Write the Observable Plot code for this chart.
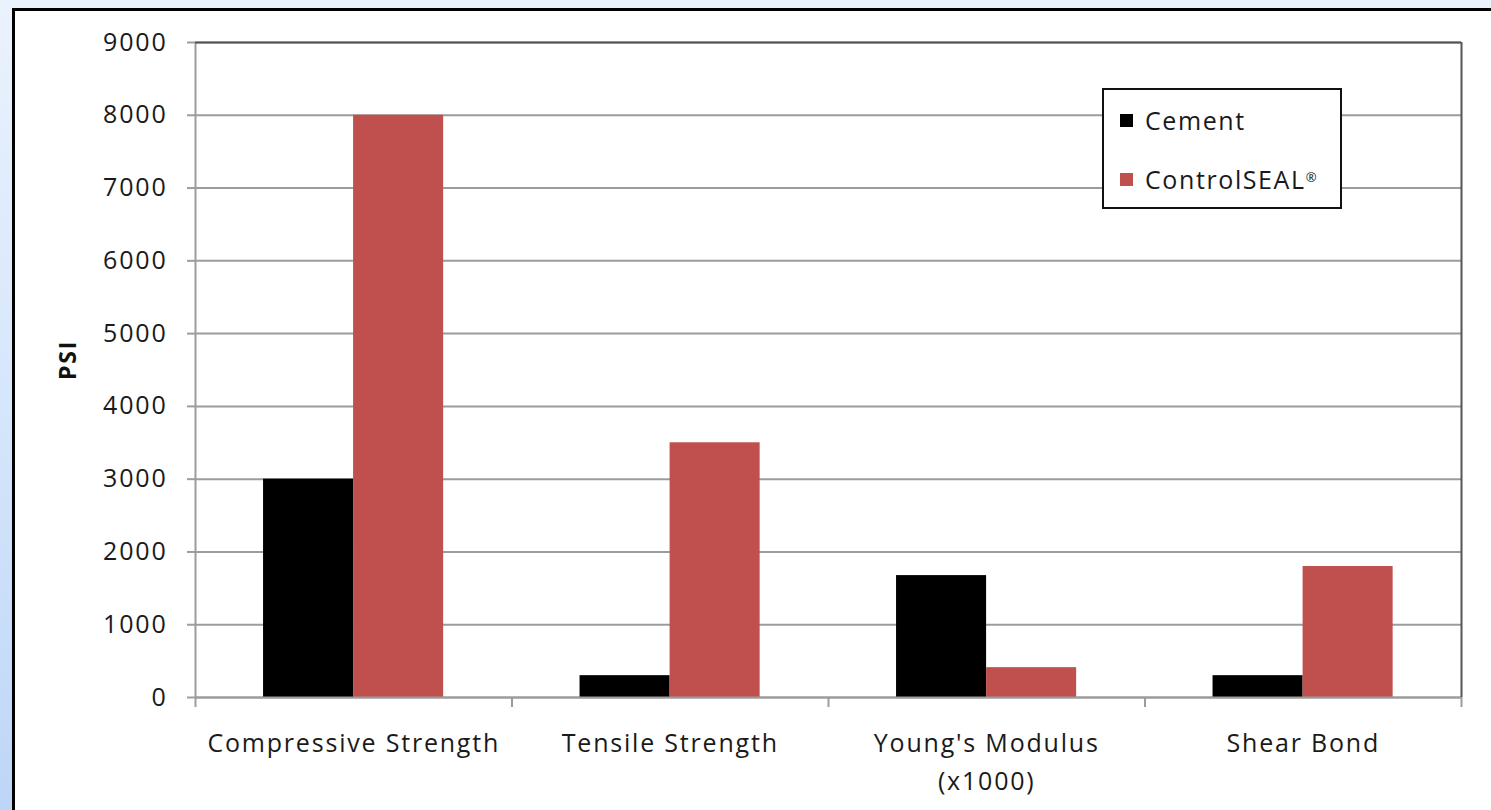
<!DOCTYPE html>
<html>
<head>
<meta charset="utf-8">
<script src="https://cdn.jsdelivr.net/npm/d3@7"></script>
<script src="https://cdn.jsdelivr.net/npm/@observablehq/plot@0.6"></script>
<style>
  html, body { margin: 0; padding: 0; }
  body {
    width: 1491px; height: 810px; overflow: hidden; position: relative;
    background: linear-gradient(to bottom, #eaf2fd 0%, #d6e6fb 50%, #bdd6f7 100%);
    font-family: "Open Sans", sans-serif;
  }
  #panel {
    position: absolute; left: 12px; top: 8px; right: 0; bottom: 0;
    background: #fff; border-left: 3px solid #000; border-top: 3px solid #000;
  }
  #chart { position: absolute; left: 0; top: 0; }
  #legend {
    position: absolute; left: 1102px; top: 88px; width: 236px; height: 117px;
    border: 2px solid #111; background: #fff; box-sizing: content-box;
  }
  .item { position: absolute; left: 16px; display: flex; align-items: center;
    font-size: 25px; color: #1a1a1a; letter-spacing: 1.6px; }
  .sw { width: 13px; height: 13px; margin-right: 12px; }
</style>
</head>
<body>
<div id="panel"></div>
<div id="chart"></div>
<div id="legend"></div>
<script>
const categories = ["Compressive Strength", "Tensile Strength", "Young's Modulus\n(x1000)", "Shear Bond"];
const cementValues = [3000, 300, 1675, 300];
const controlSealValues = [8000, 3500, 410, 1800];
const seriesNames = ["Cement", "ControlSEAL®"];
const seriesColors = ["#000000", "#c0504d"];
const yTicks = [0, 1000, 2000, 3000, 4000, 5000, 6000, 7000, 8000, 9000];

const rows = [];
categories.forEach((c, i) => {
  rows.push({category: c, index: i, series: 0, value: cementValues[i]});
  rows.push({category: c, index: i, series: 1, value: controlSealValues[i]});
});

const gap = 0.215, barW = 0.2845;
const grid = "#9c9c9c";
const font = "Open Sans, sans-serif";

const chart = Plot.plot({
  width: 1491,
  height: 810,
  marginLeft: 195,
  marginRight: 30,
  marginTop: 42,
  marginBottom: 113,
  style: {background: "transparent", fontFamily: font, color: "#1a1a1a"},
  x: {type: "linear", domain: [0, categories.length], axis: null},
  y: {domain: [0, 9000], axis: null},
  marks: [
    Plot.gridY(yTicks, {stroke: grid, strokeOpacity: 1, strokeWidth: 2}),
    Plot.rectY(rows, {
      x1: d => d.index + gap + d.series * barW,
      x2: d => d.index + gap + (d.series + 1) * barW,
      y: "value",
      fill: d => seriesColors[d.series]
    }),
    Plot.ruleX([0], {stroke: grid, strokeWidth: 2}),
    Plot.ruleY([0], {stroke: grid, strokeWidth: 2}),
    Plot.ruleY([9000], {stroke: "#555", strokeWidth: 2}),
    Plot.ruleX([categories.length], {stroke: "#555", strokeWidth: 2}),
    Plot.axisY({ticks: yTicks, tickSize: 8, tickPadding: 20, stroke: grid, strokeWidth: 2,
      fontSize: 25, fill: "#1a1a1a", tickFormat: d => String(d), label: null}),
    Plot.axisX({ticks: d3.range(categories.length + 1), tickSize: 10, tickFormat: () => "",
      stroke: grid, strokeWidth: 2, label: null}),
    Plot.axisX({ticks: categories.map((c, i) => i + 0.5), tickSize: 0, tickPadding: 28,
      tickFormat: v => categories[Math.floor(v)], fontSize: 25, fill: "#1a1a1a", label: null,
      lineHeight: 1.5}),
    Plot.text(["PSI"], {frameAnchor: "left", rotate: -90, dx: -127, dy: 10,
      fontWeight: "bold", fontSize: 23, fill: "#111"})
  ]
});
document.getElementById("chart").appendChild(chart);
chart.querySelectorAll("text").forEach(t => t.style.letterSpacing = "1.8px");

const legend = document.getElementById("legend");
seriesNames.forEach((name, i) => {
  const item = document.createElement("div");
  item.className = "item";
  item.style.top = (i === 0 ? 13 : 72) + "px";
  item.innerHTML = `<span class="sw" style="background:${seriesColors[i]}"></span>` +
    (i === 1 ? `ControlSEAL<sup style="font-size:13px;position:relative;top:-2px">®</sup>` : name);
  legend.appendChild(item);
});
</script>
</body>
</html>
